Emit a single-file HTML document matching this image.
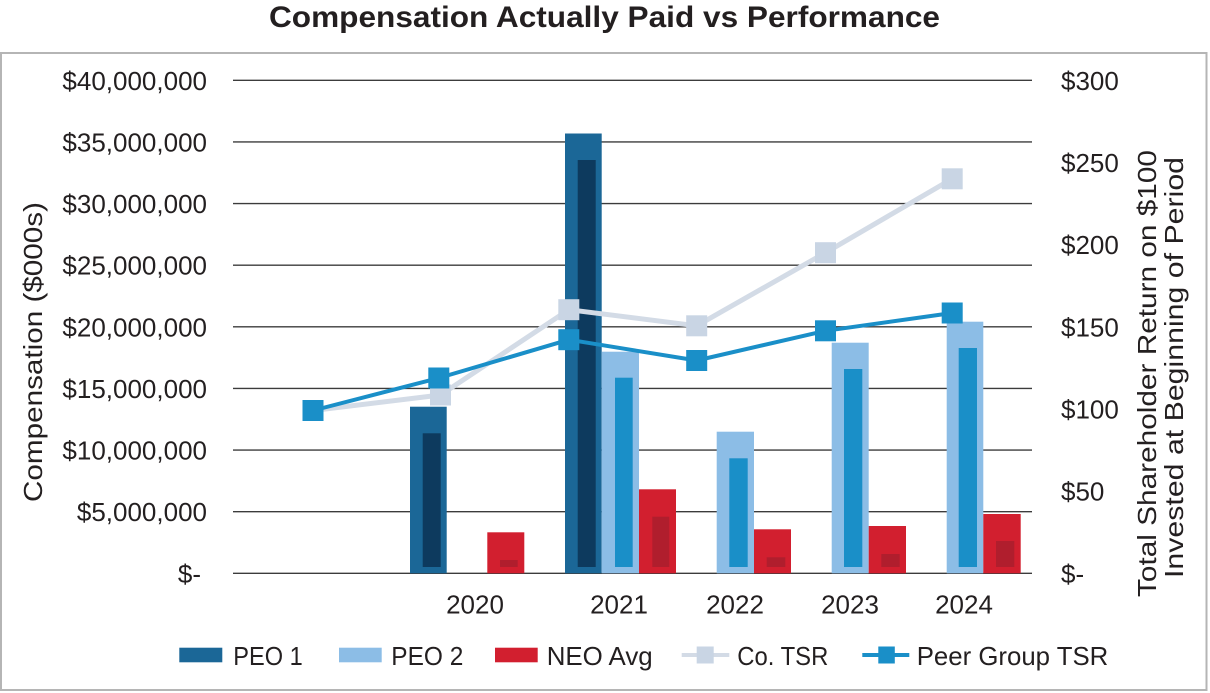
<!DOCTYPE html>
<html>
<head>
<meta charset="utf-8">
<style>
  html,body{margin:0;padding:0;background:#fff;}
  body{width:1210px;height:693px;overflow:hidden;}
  svg{display:block;}
  text{font-family:"Liberation Sans", Arial, sans-serif;fill:#231f20;}
</style>
</head>
<body>
<svg width="1210" height="693" viewBox="0 0 1210 693" xmlns="http://www.w3.org/2000/svg">
  <rect x="0" y="0" width="1210" height="693" fill="#ffffff"/>
  <!-- Title -->
  <text x="269" y="27" font-size="30" font-weight="bold" textLength="671" lengthAdjust="spacingAndGlyphs">Compensation Actually Paid vs Performance</text>
  <!-- Frame -->
  <rect x="1" y="53" width="1205.5" height="637" fill="none" stroke="#b5b5b5" stroke-width="2"/>

  <!-- Gridlines -->
  <g stroke="#3c3c3c" stroke-width="1.4">
    <line x1="233" y1="80.3" x2="1032" y2="80.3"/>
    <line x1="233" y1="141.9" x2="1032" y2="141.9"/>
    <line x1="233" y1="203.6" x2="1032" y2="203.6"/>
    <line x1="233" y1="265.2" x2="1032" y2="265.2"/>
    <line x1="233" y1="326.8" x2="1032" y2="326.8"/>
    <line x1="233" y1="388.4" x2="1032" y2="388.4"/>
    <line x1="233" y1="450.1" x2="1032" y2="450.1"/>
    <line x1="233" y1="511.7" x2="1032" y2="511.7"/>
    <line x1="233" y1="573.3" x2="1032" y2="573.3"/>
  </g>

  <!-- Left axis labels -->
  <g font-size="26" text-anchor="end">
    <text x="207" y="89.8">$40,000,000</text>
    <text x="207" y="151.4">$35,000,000</text>
    <text x="207" y="213.1">$30,000,000</text>
    <text x="207" y="274.7">$25,000,000</text>
    <text x="207" y="336.3">$20,000,000</text>
    <text x="207" y="397.9">$15,000,000</text>
    <text x="207" y="459.6">$10,000,000</text>
    <text x="207" y="521.2">$5,000,000</text>
    <text x="201" y="582.8">$-</text>
  </g>

  <!-- Right axis labels -->
  <g font-size="26">
    <text x="1061" y="89.8">$300</text>
    <text x="1061" y="172">$250</text>
    <text x="1061" y="254.2">$200</text>
    <text x="1061" y="336.3">$150</text>
    <text x="1061" y="418.5">$100</text>
    <text x="1061" y="500.7">$50</text>
    <text x="1061" y="582.8">$-</text>
  </g>

  <!-- Axis titles -->
  <text transform="translate(42,352) rotate(-90)" font-size="26" text-anchor="middle" textLength="300" lengthAdjust="spacingAndGlyphs">Compensation ($000s)</text>
  <text transform="translate(1156,373.5) rotate(-90)" font-size="26" text-anchor="middle" textLength="447" lengthAdjust="spacingAndGlyphs">Total Shareholder Return on $100</text>
  <text transform="translate(1183,367.5) rotate(-90)" font-size="26" text-anchor="middle" textLength="421" lengthAdjust="spacingAndGlyphs">Invested at Beginning of Period</text>

  <!-- X labels -->
  <g font-size="26" text-anchor="middle">
    <text x="475" y="613.3">2020</text>
    <text x="619" y="613.3">2021</text>
    <text x="735" y="613.3">2022</text>
    <text x="850" y="613.3">2023</text>
    <text x="964" y="613.3">2024</text>
  </g>

  <!-- PEO 1 bars -->
  <g>
    <rect x="410" y="406.7" width="36.7" height="166.6" fill="#1b6797"/>
    <rect x="422.7" y="433.3" width="18" height="133.7" fill="#0d3a5e"/>
    <rect x="565" y="133.5" width="36.7" height="439.8" fill="#1b6797"/>
    <rect x="577.7" y="160" width="18" height="407" fill="#0d3a5e"/>
  </g>
  <!-- PEO 2 bars -->
  <g>
    <rect x="601.7" y="351.7" width="37.3" height="221.6" fill="#8cbde6"/>
    <rect x="615" y="377.7" width="17.7" height="189.3" fill="#1a8fc8"/>
    <rect x="716.7" y="431.7" width="37.3" height="141.6" fill="#8cbde6"/>
    <rect x="729.3" y="458.3" width="18.4" height="108.7" fill="#1a8fc8"/>
    <rect x="831.7" y="342.7" width="37" height="230.6" fill="#8cbde6"/>
    <rect x="844" y="369" width="18.3" height="198" fill="#1a8fc8"/>
    <rect x="946.7" y="321.7" width="36.6" height="251.6" fill="#8cbde6"/>
    <rect x="958.7" y="348" width="18.3" height="219" fill="#1a8fc8"/>
  </g>
  <!-- NEO Avg bars -->
  <g>
    <rect x="487.3" y="532.3" width="37" height="41" fill="#d21f2f"/>
    <rect x="500" y="560" width="17.7" height="7" fill="#b01e2d"/>
    <rect x="639" y="489.3" width="37" height="84" fill="#d21f2f"/>
    <rect x="652.3" y="516.7" width="17" height="50.3" fill="#b01e2d"/>
    <rect x="754" y="529.3" width="37" height="44" fill="#d21f2f"/>
    <rect x="766.7" y="557.3" width="18.6" height="9.7" fill="#b01e2d"/>
    <rect x="868.7" y="526" width="37.3" height="47.3" fill="#d21f2f"/>
    <rect x="881.3" y="554" width="18.4" height="13" fill="#b01e2d"/>
    <rect x="983.3" y="514" width="37.4" height="59.3" fill="#d21f2f"/>
    <rect x="996" y="541" width="18.3" height="26" fill="#b01e2d"/>
  </g>

  <!-- Co. TSR -->
  <polyline points="313,410.5 440.5,395 568.8,309.7 696.7,325.8 825.5,252.7 952.2,178.8" fill="none" stroke="#d3dbe6" stroke-width="5" stroke-linejoin="round"/>
  <g fill="#c9d5e4">
    <rect x="302.5" y="400" width="21" height="21"/>
    <rect x="430" y="384.5" width="21" height="21"/>
    <rect x="558.3" y="299.2" width="21" height="21"/>
    <rect x="686.2" y="315.3" width="21" height="21"/>
    <rect x="815" y="242.2" width="21" height="21"/>
    <rect x="941.7" y="168.3" width="21" height="21"/>
  </g>

  <!-- Peer Group TSR -->
  <polyline points="313,410.5 438.8,378 568.8,339.7 696.7,360.5 825.5,330.8 952.2,313" fill="none" stroke="#1a8fc8" stroke-width="4" stroke-linejoin="round"/>
  <g fill="#1a8fc8">
    <rect x="302.5" y="400" width="21" height="21"/>
    <rect x="428.3" y="367.5" width="21" height="21"/>
    <rect x="558.3" y="329.2" width="21" height="21"/>
    <rect x="686.2" y="350" width="21" height="21"/>
    <rect x="815" y="320.3" width="21" height="21"/>
    <rect x="941.7" y="302.5" width="21" height="21"/>
  </g>

  <!-- Legend -->
  <g font-size="26">
    <rect x="179.3" y="647.7" width="43" height="14.6" fill="#1b6797"/>
    <text x="233.3" y="665" textLength="69.4" lengthAdjust="spacingAndGlyphs">PEO 1</text>
    <rect x="339" y="647.7" width="42.7" height="14.6" fill="#8cbde6"/>
    <text x="391.3" y="665" textLength="72" lengthAdjust="spacingAndGlyphs">PEO 2</text>
    <rect x="495" y="647.7" width="42.7" height="14.6" fill="#d21f2f"/>
    <text x="546.7" y="665" textLength="106" lengthAdjust="spacingAndGlyphs">NEO Avg</text>
    <line x1="681.7" y1="655" x2="729.3" y2="655" stroke="#d3dbe6" stroke-width="4"/>
    <rect x="696.7" y="646.5" width="17" height="17" fill="#c9d5e4"/>
    <text x="737.3" y="665" textLength="91" lengthAdjust="spacingAndGlyphs">Co. TSR</text>
    <line x1="862.3" y1="655" x2="909.3" y2="655" stroke="#1a8fc8" stroke-width="4"/>
    <rect x="878.3" y="646.5" width="16.5" height="17" fill="#1a8fc8"/>
    <text x="916.7" y="665" textLength="191.6" lengthAdjust="spacingAndGlyphs">Peer Group TSR</text>
  </g>
</svg>
</body>
</html>
